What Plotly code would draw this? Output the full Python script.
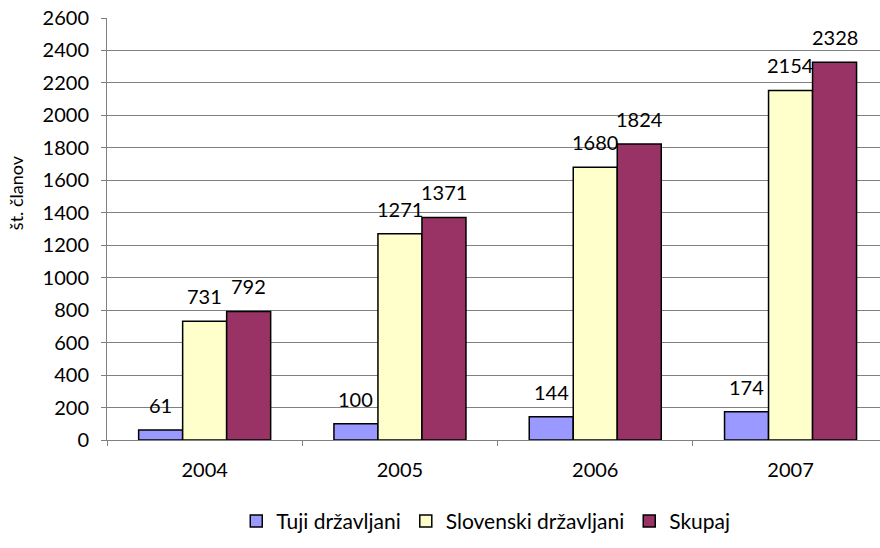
import plotly.graph_objects as go

years = ["2004", "2005", "2006", "2007"]
tuji = [61, 100, 144, 174]
slovenski = [731, 1271, 1680, 2154]
skupaj = [792, 1371, 1824, 2328]

series = [
    ("Tuji državljani", tuji, "#9999FF"),
    ("Slovenski državljani", slovenski, "#FFFFCC"),
    ("Skupaj", skupaj, "#993366"),
]

font = "Lato, 'Open Sans', sans-serif"

W, H = 880, 548
margin = dict(l=107, r=0, t=18, b=108)
x_range = [-0.5, 3.458]
bargap = 0.324

fig = go.Figure()
for name, vals, color in series:
    fig.add_trace(go.Bar(
        x=years,
        y=vals,
        name=name,
        marker=dict(color=color, line=dict(color="black", width=1.5)),
    ))

# value labels sit higher above the bars than plotly's outside text allows,
# so draw them as annotations shifted onto each bar of the group
px_per_cat = (W - margin["l"] - margin["r"]) / (x_range[1] - x_range[0])
bar_px = px_per_cat * (1 - bargap) / len(series)
for i, (name, vals, color) in enumerate(series):
    for j, v in enumerate(vals):
        fig.add_annotation(
            x=j, y=v, text=str(v),
            xshift=(i - 1) * bar_px, yshift=11,
            yanchor="bottom", showarrow=False,
            font=dict(size=20, color="black", family=font),
        )

# y-axis title placed by hand so margins stay fixed
fig.add_annotation(
    text="št. članov", textangle=-90,
    xref="paper", yref="paper", x=-0.1177, y=0.585,
    xanchor="center", yanchor="middle",
    showarrow=False, font=dict(size=18, color="black", family=font),
)

fig.update_layout(
    width=W,
    height=H,
    barmode="group",
    bargap=bargap,
    bargroupgap=0,
    plot_bgcolor="white",
    paper_bgcolor="white",
    font=dict(family=font, size=20, color="black"),
    margin=dict(**margin, autoexpand=False),
    legend=dict(
        orientation="h",
        x=0.49, xanchor="center",
        yref="container", y=0.086, yanchor="top",
        font=dict(size=21),
    ),
    xaxis=dict(
        type="category",
        automargin=False,
        range=x_range,
        showline=True, linecolor="#808080", linewidth=1,
        ticks="outside", tickson="boundaries", ticklen=5, tickcolor="#808080",
        ticklabelstandoff=12,
    ),
    yaxis=dict(
        automargin=False,
        range=[0, 2600], dtick=200,
        showline=True, linecolor="#808080", linewidth=1,
        gridcolor="#808080", gridwidth=1,
        ticks="outside", ticklen=5, tickcolor="#808080",
        ticklabelstandoff=8,
    ),
)

# drop the default 8px body margin so the figure sits at the window origin
fig.write_html(
    "out.html",
    config={"displayModeBar": False},
    post_script="document.body.style.margin='0';",
)
